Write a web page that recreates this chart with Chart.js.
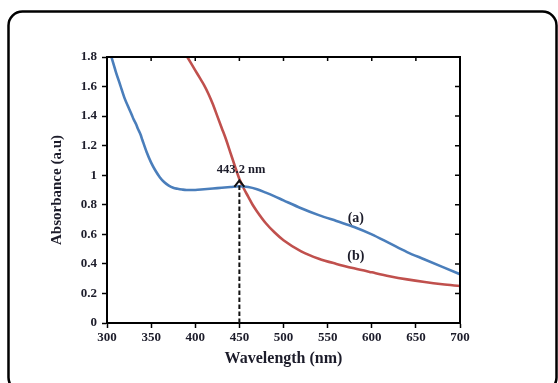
<!DOCTYPE html>
<html>
<head>
<meta charset="utf-8">
<script src="https://cdn.jsdelivr.net/npm/chart.js@4.4.0/dist/chart.umd.min.js"></script>
<style>
  html, body { margin: 0; padding: 0; background: #ffffff; }
  #wrap { position: relative; width: 558px; height: 383px; }
</style>
</head>
<body>
<div id="wrap"><canvas id="c" width="558" height="383"></canvas></div>
<script>
// ---- Data ----
const wavelengthA = [305, 310, 315, 320, 325, 328, 330, 333, 335, 338, 340, 345, 350, 355, 360, 365, 370, 375, 380, 385, 390, 400, 410, 420, 430, 440, 450, 460, 470, 480, 490, 500, 520, 540, 560, 580, 600, 620, 640, 660, 680, 700];
const absorbanceA = [1.80, 1.70, 1.61, 1.52, 1.45, 1.41, 1.38, 1.345, 1.315, 1.275, 1.24, 1.155, 1.085, 1.03, 0.985, 0.952, 0.93, 0.915, 0.908, 0.903, 0.90, 0.90, 0.905, 0.91, 0.915, 0.92, 0.925, 0.92, 0.905, 0.882, 0.857, 0.83, 0.777, 0.73, 0.69, 0.65, 0.60, 0.54, 0.48, 0.43, 0.38, 0.33];

const wavelengthB = [391, 395, 400, 405, 410, 415, 420, 425, 430, 435, 440, 445, 450, 455, 460, 465, 470, 480, 490, 500, 520, 540, 560, 580, 600, 620, 640, 660, 680, 700];
const absorbanceB = [1.80, 1.76, 1.71, 1.66, 1.61, 1.55, 1.48, 1.40, 1.32, 1.24, 1.15, 1.06, 0.975, 0.91, 0.855, 0.80, 0.755, 0.675, 0.612, 0.56, 0.485, 0.435, 0.40, 0.37, 0.343, 0.317, 0.295, 0.277, 0.262, 0.25];

const xTicks = [300, 350, 400, 450, 500, 550, 600, 650, 700];
const yTicks = [0, 0.2, 0.4, 0.6, 0.8, 1, 1.2, 1.4, 1.6, 1.8];

const peakWavelength = 450;      // dashed arrow position
const peakArrowTop = 0.965;
const peakLabel = '443.2 nm';
const seriesLabels = [
  { text: '(a)', x: 582, y: 0.71 },
  { text: '(b)', x: 582, y: 0.45 }
];

const FONT = '"Liberation Serif", "Times New Roman", serif';
const TEXT = '#1c1c2a';

const toPoints = (xs, ys) => xs.map((x, i) => ({ x: x, y: ys[i] }));

const decor = {
  id: 'decor',
  beforeDraw(chart) {
    const ctx = chart.ctx;
    ctx.save();
    ctx.fillStyle = '#ffffff';
    ctx.fillRect(0, 0, chart.width, chart.height);
    ctx.strokeStyle = '#000';
    ctx.lineWidth = 2.5;
    ctx.beginPath();
    ctx.roundRect(8.5, 11.5, 548, 380, 14);
    ctx.stroke();
    ctx.restore();
  },
  afterDatasetsDraw(chart) {
    const ctx = chart.ctx;
    const xs = chart.scales.x, ys = chart.scales.y;
    const a = chart.chartArea;
    ctx.save();
    ctx.strokeStyle = '#000';
    ctx.lineWidth = 2;
    ctx.beginPath();
    ctx.moveTo(a.left, a.top);
    ctx.lineTo(a.right, a.top);
    ctx.lineTo(a.right, a.bottom);
    ctx.stroke();
    ctx.lineWidth = 1.5;
    ctx.beginPath();
    xTicks.forEach(v => {
      const px = xs.getPixelForValue(v);
      ctx.moveTo(px, a.top);
      ctx.lineTo(px, a.top + 4);
    });
    yTicks.forEach(v => {
      const py = ys.getPixelForValue(v);
      ctx.moveTo(a.right, py);
      ctx.lineTo(a.right - 5, py);
    });
    ctx.stroke();

    const px = xs.getPixelForValue(peakWavelength);
    const yb = ys.getPixelForValue(0);
    const yt = ys.getPixelForValue(peakArrowTop);
    ctx.strokeStyle = '#111';
    ctx.lineWidth = 2;
    ctx.setLineDash([4.5, 2.5]);
    ctx.beginPath();
    ctx.moveTo(px, yb);
    ctx.lineTo(px, yt + 2);
    ctx.stroke();
    ctx.setLineDash([]);
    ctx.lineWidth = 2;
    ctx.beginPath();
    ctx.moveTo(px - 5, yt + 6.5);
    ctx.lineTo(px, yt);
    ctx.lineTo(px + 5, yt + 6.5);
    ctx.stroke();

    ctx.fillStyle = TEXT;
    ctx.textAlign = 'center';
    ctx.textBaseline = 'middle';
    ctx.font = 'bold 12.5px ' + FONT;
    ctx.fillText(peakLabel, xs.getPixelForValue(452), ys.getPixelForValue(1.035));
    ctx.font = 'bold 14px ' + FONT;
    seriesLabels.forEach(l => {
      ctx.fillText(l.text, xs.getPixelForValue(l.x), ys.getPixelForValue(l.y));
    });
    ctx.restore();
  }
};

new Chart(document.getElementById('c'), {
  type: 'line',
  data: {
    datasets: [
      {
        label: '(a)',
        data: toPoints(wavelengthA, absorbanceA),
        borderColor: '#4a7ebb',
        borderWidth: 2.6,
        pointRadius: 0,
        cubicInterpolationMode: 'monotone',
        fill: false
      },
      {
        label: '(b)',
        data: toPoints(wavelengthB, absorbanceB),
        borderColor: '#c0504d',
        borderWidth: 2.6,
        pointRadius: 0,
        cubicInterpolationMode: 'monotone',
        fill: false
      }
    ]
  },
  options: {
    responsive: false,
    animation: false,
    devicePixelRatio: 1,
    layout: { padding: { left: 0, top: 57, right: 98, bottom: 0 } },
    plugins: { legend: { display: false }, tooltip: { enabled: false } },
    scales: {
      x: {
        type: 'linear',
        min: 300,
        max: 700,
        afterBuildTicks: s => { s.ticks = xTicks.map(v => ({ value: v })); },
        afterFit: s => { s.height = 60; },
        border: { display: true, color: '#000', width: 2 },
        grid: { display: true, drawOnChartArea: false, drawTicks: true, tickLength: 5, tickColor: '#000', tickWidth: 1.5 },
        ticks: { color: TEXT, font: { family: FONT, size: 13, weight: 'bold' }, padding: 2, maxRotation: 0, autoSkip: false },
        title: { display: true, text: 'Wavelength (nm)', color: TEXT, font: { family: FONT, size: 16, weight: 'bold' }, padding: { top: 0, bottom: 15 } }
      },
      y: {
        type: 'linear',
        min: 0,
        max: 1.8,
        afterBuildTicks: s => { s.ticks = yTicks.map(v => ({ value: v })); },
        afterFit: s => { s.width = 107; },
        border: { display: true, color: '#000', width: 2 },
        grid: { display: true, drawOnChartArea: false, drawTicks: true, tickLength: 5, tickColor: '#000', tickWidth: 1.5 },
        ticks: { color: TEXT, font: { family: FONT, size: 13, weight: 'bold' }, padding: 5, autoSkip: false, callback: v => String(Math.round(v * 10) / 10) },
        title: { display: true, text: 'Absorbance (a.u)', color: TEXT, font: { family: FONT, size: 15, weight: 'bold' }, padding: { top: 48, bottom: 0 } }
      }
    }
  },
  plugins: [decor]
});
</script>
</body>
</html>
